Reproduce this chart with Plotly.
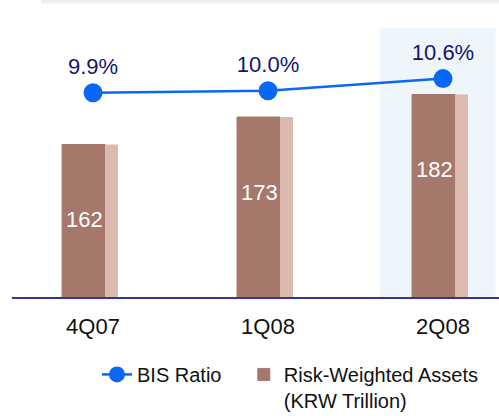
import plotly.graph_objects as go

# Quarterly capital figures
quarters = ["4Q07", "1Q08", "2Q08"]
rwa_trillion = [162, 173, 182]          # Risk-weighted assets, KRW trillion
bis_ratio = [9.9, 10.0, 10.6]           # BIS capital ratio, %

FONT = "Arial, Liberation Sans, sans-serif"
FRONT = "#a6776b"
SIDE = "#dbbbb0"
LINE_BLUE = "#0a66f5"
NAVY = "#14146e"

fig = go.Figure()

# Bar front faces
fig.add_trace(go.Bar(
    x=quarters, y=rwa_trillion,
    name="Risk-Weighted Assets<br>(KRW Trillion)",
    legend="legend2",
    marker=dict(color=FRONT, line=dict(color=FRONT, width=1)),
    width=0.246, offset=-0.177,
    hoverinfo="skip",
))

# Lighter side faces give the bars a block look
fig.add_trace(go.Bar(
    x=quarters, y=rwa_trillion,
    marker=dict(color=SIDE, line=dict(width=0)),
    width=0.074, offset=0.069,
    showlegend=False, hoverinfo="skip",
))

# BIS ratio line on its own hidden axis
fig.add_trace(go.Scatter(
    x=quarters, y=bis_ratio, yaxis="y2",
    name="BIS Ratio",
    mode="lines+markers+text",
    line=dict(color=LINE_BLUE, width=2.5),
    marker=dict(color=LINE_BLUE, size=19),
    text=[f"{v:.1f}%" for v in bis_ratio],
    textposition="top center",
    textfont=dict(color=NAVY, size=22, family=FONT),
    cliponaxis=False,
))

# Value labels on the bar front faces
annotations = [
    dict(x=q, y=v - 30, xref="x", yref="y", text=str(v), showarrow=False,
         xshift=-9, font=dict(color="white", size=22, family=FONT))
    for q, v in zip(quarters, rwa_trillion)
]

legend_common = dict(
    orientation="h", xanchor="left", y=-0.195, yanchor="top",
    valign="top", font=dict(size=20, color="#111111", family=FONT),
    bgcolor="rgba(0,0,0,0)",
)

fig.update_layout(
    width=499, height=416,
    margin=dict(l=12, r=0, t=0, b=119, autoexpand=False),
    paper_bgcolor="white", plot_bgcolor="rgba(0,0,0,0)",
    barmode="overlay",
    font=dict(family=FONT, color="#111111"),
    xaxis=dict(
        type="category", range=[-0.463, 2.32],
        showline=True, linecolor="#34349a", linewidth=2,
        showgrid=False, zeroline=False,
        ticks="outside", ticklen=9, tickcolor="rgba(0,0,0,0)",
        tickfont=dict(size=22, color="#111111", family=FONT),
    ),
    yaxis=dict(range=[101, 219.8], visible=False, showgrid=False),
    yaxis2=dict(range=[-0.254, 14.507], overlaying="y", visible=False,
                showgrid=False),
    legend=dict(x=0.1745, **legend_common),
    legend2=dict(x=0.476, **legend_common),
    showlegend=True,
    annotations=annotations,
    shapes=[
        # soft blue backdrop behind the latest quarter
        dict(type="rect", xref="x", yref="paper", x0=1.64, x1=2.30,
             y0=0, y1=0.905, fillcolor="#eef5fb", line=dict(width=0),
             layer="below"),
        # thin grey band along the top edge
        dict(type="rect", xref="paper", yref="paper", x0=0.06, x1=1.0,
             y0=0.988, y1=1.0, fillcolor="#ececf2", line=dict(width=0),
             layer="below"),
    ],
)

fig.write_html("out.html")
